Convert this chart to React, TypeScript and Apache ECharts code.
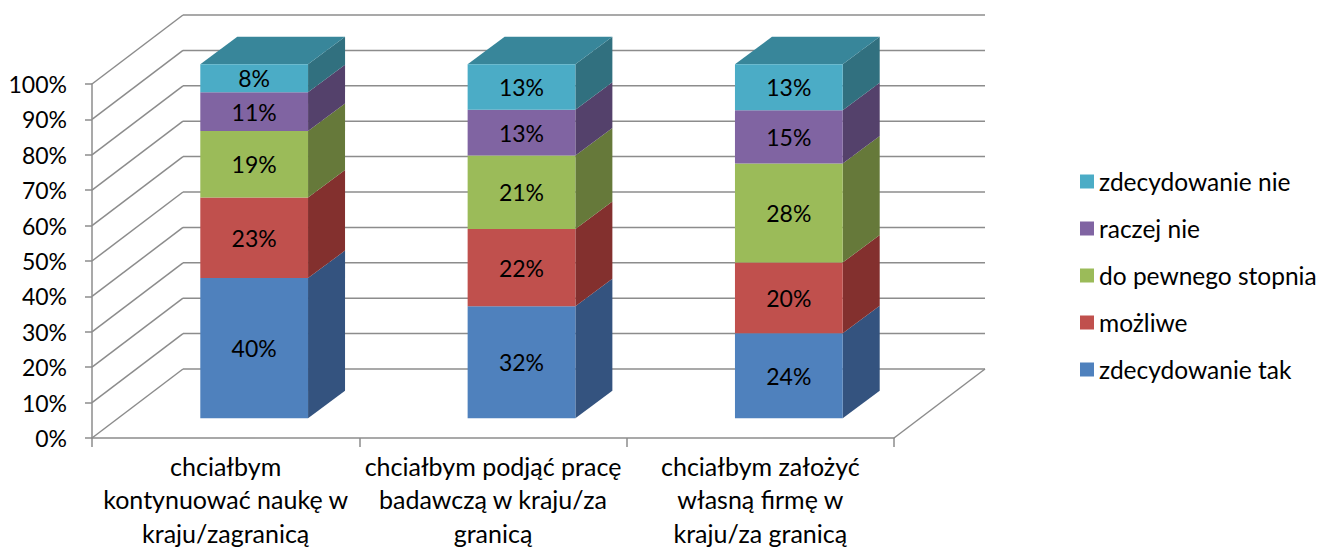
import React, { useEffect, useRef } from "react";
import * as echarts from "echarts";

const categories = [
  "chciałbym\nkontynuować naukę w\nkraju/zagranicą",
  "chciałbym podjąć pracę\nbadawczą w kraju/za\ngranicą",
  "chciałbym założyć\nwłasną firmę w\nkraju/za granicą",
];
const seriesNames = ["zdecydowanie tak", "możliwe", "do pewnego stopnia", "raczej nie", "zdecydowanie nie"];
const zdecydowanieTak = [40, 32, 24];
const mozliwe = [23, 22, 20];
const doPewnegoStopnia = [19, 21, 28];
const raczejNie = [11, 13, 15];
const zdecydowanieNie = [8, 13, 13];
const yTicks = [0, 10, 20, 30, 40, 50, 60, 70, 80, 90, 100];

const frontColors = ["#4F81BD", "#C0504D", "#9BBB59", "#8064A2", "#4BACC6"];
const sideColors = ["#34537F", "#83302E", "#66793A", "#54416B", "#31707F"];
const topColor = "#38869A";

const FONT = "Lato";
const FS_NUM = 23;
const FS_TXT = 25;
const FS_LEG = 24.5;
const DEPTH_X = 91;
const DEPTH_Y = -69;
const BAR_OFF_X = 28.5;
const BAR_OFF_Y = -19.7;
const BAR_DX = 37;
const BAR_DY = -27.5;
const BAR_RATIO = 0.403;
const GRID_COLOR = "#8C8C8C";

export default function App() {
  const ref = useRef<HTMLDivElement>(null);
  useEffect(() => {
    if (!ref.current) return;
    const chart = echarts.init(ref.current, null, { renderer: "svg" });
    const allValues = [zdecydowanieTak, mozliwe, doPewnegoStopnia, raczejNie, zdecydowanieNie];
    const totals = categories.map((_, c) => allValues.reduce((s, arr) => s + arr[c], 0));

    const barSeries = allValues.map((vals, si) => {
      const data = vals.map((v, c) => {
        let start = 0;
        for (let k = 0; k < si; k++) start += allValues[k][c];
        const s = (start / totals[c]) * 100;
        const e = ((start + v) / totals[c]) * 100;
        return [c, s, e, v, si === allValues.length - 1 ? 1 : 0];
      });
      return {
        type: "custom",
        name: seriesNames[si],
        itemStyle: { color: frontColors[si] },
        clip: false,
        z: 3,
        encode: { x: 0, y: [1, 2] },
        data,
        renderItem: (params: any, api: any) => {
          const c = api.value(0);
          const s = api.value(1);
          const e = api.value(2);
          const raw = api.value(3);
          const isTop = api.value(4);
          const p0 = api.coord([c, s]);
          const p1 = api.coord([c, e]);
          const band = api.size([1, 0])[0];
          const w = band * BAR_RATIO;
          const xl = p0[0] - w / 2 + BAR_OFF_X;
          const xr = xl + w;
          const ys = p0[1] + BAR_OFF_Y;
          const ye = p1[1] + BAR_OFF_Y;
          const children: any[] = [
            {
              type: "polygon",
              shape: { points: [[xr, ys], [xr + BAR_DX, ys + BAR_DY], [xr + BAR_DX, ye + BAR_DY], [xr, ye]] },
              style: { fill: sideColors[si] },
            },
          ];
          if (isTop) {
            children.push({
              type: "polygon",
              shape: { points: [[xl, ye], [xl + BAR_DX, ye + BAR_DY], [xr + BAR_DX, ye + BAR_DY], [xr, ye]] },
              style: { fill: topColor },
            });
          }
          children.push({
            type: "rect",
            shape: { x: xl, y: ye, width: w, height: ys - ye },
            style: { fill: frontColors[si] },
          });
          children.push({
            type: "text",
            x: (xl + xr) / 2,
            y: (ys + ye) / 2,
            style: {
              text: raw + "%",
              fill: "#000",
              font: `${FS_NUM}px ${FONT}`,
              align: "center",
              verticalAlign: "middle",
            },
          });
          return { type: "group", children };
        },
      };
    });

    const wallSeries = {
      type: "custom",
      name: "wall",
      silent: true,
      clip: false,
      z: 1,
      encode: { x: 0, y: 1 },
      data: yTicks.map((t) => [0, t]),
      renderItem: (params: any, api: any) => {
        const t = api.value(1);
        const cs = params.coordSys;
        const y = api.coord([0, t])[1];
        const x0 = cs.x;
        const x1 = cs.x + cs.width;
        const ls = { stroke: GRID_COLOR, lineWidth: 1.5 };
        const children: any[] = [
          { type: "line", shape: { x1: x0, y1: y, x2: x0 + DEPTH_X, y2: y + DEPTH_Y }, style: ls },
          { type: "line", shape: { x1: x0 + DEPTH_X, y1: y + DEPTH_Y, x2: x1 + DEPTH_X, y2: y + DEPTH_Y }, style: ls },
        ];
        if (t === 0) {
          children.push({ type: "line", shape: { x1: x1, y1: y, x2: x1 + DEPTH_X, y2: y + DEPTH_Y }, style: ls });
        }
        return { type: "group", children };
      },
    };

    chart.setOption({
      animation: false,
      backgroundColor: "#fff",
      grid: { left: 92, right: 424, top: 84, bottom: 111, outerBoundsMode: "none", containLabel: false },
      legend: {
        orient: "vertical",
        left: 1075,
        top: 164,
        itemWidth: 14,
        itemHeight: 14,
        itemGap: 22,
        icon: "rect",
        data: [...seriesNames].reverse(),
        textStyle: { fontFamily: FONT, fontSize: FS_LEG, color: "#000", lineHeight: 20 },
      },
      xAxis: {
        type: "category",
        data: categories,
        boundaryGap: true,
        axisLine: { show: true, lineStyle: { color: GRID_COLOR, width: 1.5 } },
        axisTick: { show: true, length: 9, lineStyle: { color: GRID_COLOR, width: 1.5 } },
        axisLabel: {
          interval: 0,
          margin: 11,
          fontFamily: FONT,
          fontSize: FS_TXT,
          color: "#000",
          lineHeight: 33.5,
          align: "center",
        },
      },
      yAxis: {
        type: "value",
        min: 0,
        max: 100,
        interval: 10,
        splitLine: { show: false },
        axisLine: { show: true, lineStyle: { color: GRID_COLOR, width: 1.5 } },
        axisTick: { show: true, length: 7, lineStyle: { color: GRID_COLOR, width: 1.5 } },
        axisLabel: { formatter: "{value}%", margin: 25, fontFamily: FONT, fontSize: FS_NUM, color: "#000" },
      },
      series: [wallSeries, ...barSeries],
    });
    return () => chart.dispose();
  }, []);
  return <div ref={ref} style={{ position: "fixed", left: 0, top: 0, width: 1318, height: 549 }} />;
}
